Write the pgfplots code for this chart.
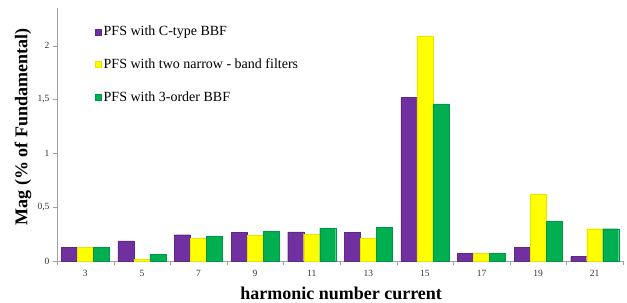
\documentclass[border=0pt]{standalone}
\usepackage{pgfplots}
\pgfplotsset{compat=1.18}
\usepackage{fontspec}
\setmainfont{Liberation Serif}
\definecolor{cpurple}{HTML}{7030A0}
\definecolor{cyellow}{HTML}{FFFF00}
\definecolor{cgreen}{HTML}{00B050}
\definecolor{axgray}{HTML}{A0A0A0}
\begin{document}
\begin{tikzpicture}
\begin{axis}[name=ax,
  scale only axis, width=566pt, height=253pt,
  ybar=0pt, bar width=16pt,
  xmin=-0.5, xmax=9.5, ymin=0, ymax=2.35,
  axis lines=left, axis line style={axgray, -},
  xtick={0,...,9}, xticklabels={3,5,7,9,11,13,15,17,19,21},
  major x tick style={draw=none},
  minor xtick={-0.5,0.5,...,9.5},
  minor x tick style={axgray},
  ytick={0,0.5,1,1.5,2}, yticklabels={0,{0,5},1,{1,5},2},
  y tick style={axgray},
  tick align=outside, major tick length=4pt, minor tick length=4pt,
  ticklabel style={font=\fontsize{9.5}{11}\selectfont, text=black!80},
  xticklabel style={yshift=-2pt},
  xlabel={\textbf{harmonic number current}},
  ylabel={\textbf{Mag (\% of Fundamental)}},
  label style={font=\fontsize{18}{20}\selectfont},
  xlabel style={at={(axis description cs:0.502,-0.126)}, anchor=center},
  ylabel style={at={(axis description cs:-0.06,0.53)}, anchor=center},
  legend style={draw=none, fill=none, at={(0.062,0.945)}, anchor=north west,
    font=\fontsize{14}{15}\selectfont, row sep=17.5pt, cells={anchor=west}},
  legend image code/.code={\fill[#1] (0pt,-3pt) rectangle (6pt,3pt);},
  legend cell align=left,
]
\addplot[fill=cpurple, draw=cpurple!85!black] coordinates {(0,0.128) (1,0.188) (2,0.244) (3,0.269) (4,0.27) (5,0.269) (6,1.52) (7,0.072) (8,0.13) (9,0.04)};
\addplot[fill=cyellow, draw=cyellow!90!black] coordinates {(0,0.125) (1,0.015) (2,0.213) (3,0.237) (4,0.247) (5,0.213) (6,2.09) (7,0.07) (8,0.62) (9,0.30)};
\addplot[fill=cgreen, draw=cgreen!85!black] coordinates {(0,0.125) (1,0.063) (2,0.234) (3,0.275) (4,0.303) (5,0.31) (6,1.46) (7,0.07) (8,0.37) (9,0.30)};
\legend{PFS with C-type BBF, PFS with two narrow - band filters, PFS with 3-order BBF}
\end{axis}
\pgfresetboundingbox
\useasboundingbox ([shift={(-57pt,-41pt)}]ax.south west) rectangle ([shift={(4pt,8pt)}]ax.north east);
\end{tikzpicture}
\end{document}
